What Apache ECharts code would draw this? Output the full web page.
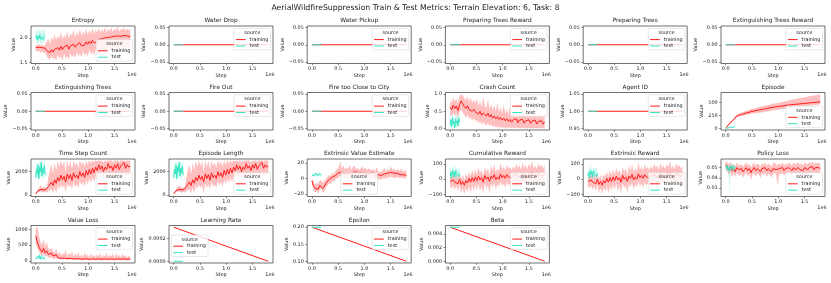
<!DOCTYPE html>
<html><head><meta charset="utf-8">
<script src="https://cdn.jsdelivr.net/npm/echarts@6/dist/echarts.min.js"></script>
<style>html,body{margin:0;padding:0;background:#fff}#c{width:831px;height:283px}</style>
</head><body><div id="c"></div>
<script>
// ================= DATA =================
const trainSteps = [0,0.03,0.06,0.09,0.12,0.15,0.18,0.21,0.24,0.27,0.3,0.33,0.36,0.39,0.42,0.45,0.48,0.51,0.54,0.57,0.6,0.63,0.66,0.69,0.72,0.75,0.78,0.81,0.84,0.87,0.9,0.93,0.96,0.99,1.02,1.05,1.08,1.11,1.14,1.17,1.2,1.23,1.26,1.29,1.32,1.35,1.38,1.41,1.44,1.47,1.5,1.53,1.56,1.59,1.62,1.65,1.68,1.71,1.74,1.77,1.8];
const testSteps = [0,0.015,0.03,0.045,0.06,0.075,0.09,0.105,0.12,0.135,0.15,0.165,0.18];
const trainEnds = [0, 1.8];
const testEnds = [0, 0.18];
const episodeSteps = [0,0.03,0.06,0.1,0.15,0.2,0.25,0.3,0.4,0.5,0.6,0.7,0.8,0.9,1.0,1.1,1.2,1.3,1.4,1.5,1.6,1.7,1.8];

const xTicks = [0, 0.5, 1.0, 1.5];

// Entropy
const entropyTicks = [1.5, 2.0];
const entropyTrain = [1.80,1.78,1.81,1.77,1.80,1.76,1.79,1.74,1.72,1.70,1.76,1.71,1.77,1.73,1.80,1.75,1.83,1.76,1.82,1.78,1.85,1.77,1.84,1.80,1.87,1.81,1.86,1.83,1.90,1.84,1.88,1.85,1.92,1.87,1.93,1.88,1.95,1.90,1.94,1.91,1.97,1.93,1.98,1.94,2.00,1.96,2.01,1.97,2.02,1.98,2.03,1.99,2.04,2.00,2.03,1.99,2.05,2.01,2.04,2.00,2.02];
const entropyTrainLo = [1.74,1.72,1.74,1.70,1.73,1.69,1.71,1.62,1.58,1.55,1.63,1.57,1.60,1.54,1.66,1.58,1.62,1.53,1.68,1.57,1.64,1.55,1.70,1.60,1.66,1.58,1.72,1.62,1.68,1.60,1.74,1.64,1.70,1.62,1.76,1.66,1.72,1.64,1.78,1.68,1.74,1.66,1.80,1.70,1.76,1.68,1.82,1.72,1.78,1.70,1.83,1.73,1.80,1.71,1.84,1.74,1.81,1.72,1.85,1.75,1.80];
const entropyTrainHi = [1.86,1.85,1.88,1.84,1.87,1.83,1.86,1.92,1.98,1.88,2.02,1.93,2.08,1.95,2.05,1.98,2.12,1.96,2.06,2.00,2.14,1.98,2.10,2.03,2.16,2.00,2.12,2.05,2.18,2.04,2.13,2.07,2.19,2.06,2.15,2.09,2.20,2.08,2.16,2.11,2.21,2.10,2.17,2.12,2.22,2.11,2.18,2.14,2.21,2.12,2.19,2.15,2.22,2.13,2.18,2.16,2.21,2.14,2.19,2.16,2.18];
const entropyTest = [2.00,2.05,1.96,2.03,1.98,2.06,1.97,2.02,2.04,1.96,2.01,2.05,1.99];
const entropyTestLo = [1.92,1.95,1.86,1.90,1.88,1.96,1.85,1.90,1.95,1.87,1.90,1.96,1.90];
const entropyTestHi = [2.12,2.20,2.08,2.18,2.10,2.21,2.09,2.15,2.19,2.08,2.14,2.20,2.10];

// Constant metrics
const zeroTicks = [-0.05, 0, 0.05];
const zeroTrain = [0, 0];
const zeroTest = [0, 0];

// Agent ID
const agentTicks = [0.95, 1.0, 1.05];
const agentTrain = [1, 1];
const agentTest = [1, 1];

// Crash Count
const crashTicks = [0, 0.5, 1.0];
const crashTrain = [0.62,0.55,0.68,0.58,0.65,0.52,0.70,0.80,0.72,0.64,0.58,0.66,0.55,0.60,0.50,0.56,0.48,0.52,0.42,0.50,0.38,0.45,0.40,0.36,0.44,0.33,0.40,0.30,0.36,0.28,0.34,0.26,0.32,0.24,0.30,0.22,0.28,0.20,0.26,0.18,0.25,0.20,0.28,0.16,0.24,0.19,0.26,0.15,0.22,0.18,0.25,0.14,0.21,0.17,0.24,0.13,0.20,0.16,0.22,0.12,0.18];
const crashTrainLo = [0.40,0.35,0.45,0.38,0.42,0.30,0.48,0.55,0.45,0.38,0.30,0.40,0.28,0.32,0.22,0.30,0.20,0.25,0.15,0.22,0.10,0.18,0.12,0.08,0.16,0.06,0.12,0.04,0.08,0.02,0.06,0,0.05,0,0.04,0,0.03,0,0.02,0,0.02,0,0.03,0,0.01,0,0.02,0,0,0,0.02,0,0,0,0.01,0,0,0,0,0,0];
const crashTrainHi = [0.80,0.75,0.90,0.78,0.88,0.72,0.95,1.00,0.96,0.88,0.82,0.95,0.78,0.90,0.75,0.85,0.72,0.88,0.66,0.80,0.62,0.92,0.64,0.60,0.85,0.56,0.72,0.54,0.68,0.50,0.75,0.48,0.62,0.45,0.70,0.42,0.58,0.40,0.66,0.38,0.52,0.40,0.60,0.35,0.50,0.38,0.62,0.34,0.48,0.36,0.55,0.32,0.46,0.35,0.56,0.30,0.44,0.33,0.50,0.30,0.40];
const crashTest = [0.10,0.25,0.05,0.30,0.12,0.20,0.02,0.28,0.15,0.22,0.08,0.30,0.18];
const crashTestLo = [0,0.05,0,0.08,0,0.02,0,0.10,0,0.05,0,0.10,0.02];
const crashTestHi = [0.25,0.45,0.18,0.50,0.30,0.40,0.12,0.48,0.32,0.42,0.20,0.50,0.35];

// Episode
const episodeTicks = [0, 250, 500];
const episodeTrain = [0,40,80,120,170,230,255,270,300,330,350,370,390,410,425,440,455,465,475,485,495,505,515];
const episodeTrainLo = [0,30,65,100,150,205,225,240,265,285,300,315,330,345,360,375,390,400,410,425,440,455,470];
const episodeTrainHi = [5,50,95,140,195,260,290,310,345,380,405,430,455,480,500,520,545,565,585,605,625,645,665];
const episodeTest = [0,2,5,8,10,12,15,17,20,22,25,27,30];
const episodeTestLo = [0,0,2,5,7,9,12,14,17,19,22,24,27];
const episodeTestHi = [2,5,8,11,13,15,18,20,23,25,28,30,33];

// Time Step Count (Episode Length shows the same curve)
const timeStepTicks = [0, 2000];
const timeStepTrain = [100,250,400,500,450,380,420,350,700,900,1100,800,1300,1000,1500,1200,1700,1300,1600,1100,1800,1400,1750,1250,1900,1500,1700,1400,2000,1600,1900,1500,2100,1700,2200,1800,2300,1900,2400,2100,2600,2200,2500,2000,2400,2200,2700,2300,2500,2100,2600,2300,2700,2200,2500,2350,2800,2300,2600,2400,2500];
const timeStepTrainLo = [50,150,250,300,250,200,250,200,300,400,500,100,600,150,800,500,900,600,800,200,1000,600,900,500,1100,700,900,600,1200,800,1100,700,1300,900,1400,1000,1500,1100,1600,1300,1800,1400,1700,1200,1600,1400,1900,1500,1700,1300,1800,1500,1900,1400,1700,1550,2000,1500,1800,1600,1800];
const timeStepTrainHi = [200,400,600,800,700,600,650,600,1500,2200,2600,1800,2800,2100,2950,2400,3000,2500,2900,2000,3000,2400,2950,2200,3000,2500,2800,2300,3000,2600,2900,2400,3000,2600,3000,2700,3000,2800,3000,2900,3000,2900,3000,2800,3000,2900,3000,2950,3000,2800,3000,2900,3000,2850,3000,2950,3000,2900,3000,2950,3000];
const timeStepTest = [1500,2200,1800,2600,1400,2400,2000,2800,1600,2300,1900,2500,1700];
const timeStepTestLo = [1100,1600,1300,2000,1000,1800,1400,2200,1100,1700,1300,1900,1200];
const timeStepTestHi = [2300,2900,2600,3000,2200,3000,2700,3000,2400,3000,2600,3000,2500];
const episodeLengthTrain = timeStepTrain, episodeLengthTrainLo = timeStepTrainLo, episodeLengthTrainHi = timeStepTrainHi;
const episodeLengthTest = timeStepTest, episodeLengthTestLo = timeStepTestLo, episodeLengthTestHi = timeStepTestHi;

// Extrinsic Value Estimate
const eveTicks = [-20, 0, 20];
const eveTrain = [-3,-10,-13,-12,-14,-9,-8,-13,-10,-6,-4,-1,-3,2,1,4,5,8,10,7,9,6,8,7,9,6,8,9,7,8,6,8,9,7,8,6,8,7,6,8,5,4,5,3,4,5,6,4,7,6,8,6,7,5,7,6,5,7,5,6,4];
const eveTrainLo = [-6,-15,-18,-17,-20,-14,-13,-19,-16,-11,-9,-6,-8,-3,-4,-1,0,2,4,1,3,0,2,1,4,0,3,4,1,3,0,3,4,1,2,0,3,1,0,2,-1,-1,0,-2,-1,0,1,-1,2,1,3,1,2,0,2,1,0,2,0,1,-1];
const eveTrainHi = [0,-4,-8,-6,-7,-3,-2,-6,-3,0,2,5,3,8,6,10,12,15,22,13,17,12,14,13,18,11,15,17,12,14,11,13,16,12,14,11,13,12,10,13,9,15,10,8,9,11,14,9,13,10,16,11,13,10,12,11,10,13,9,11,9];
const eveTest = [4,5,6,4,5,7,5,4,6,5,6,4,5];
const eveTestLo = [2,3,4,2,3,5,3,2,4,3,4,2,3];
const eveTestHi = [6,7,8,6,7,9,7,6,8,7,8,6,7];

// Cumulative Reward (Extrinsic Reward shows the same curve)
const rewardTicks = [-100, 0, 100];
const cumRewardTrain = [-15,-25,-5,-20,-10,-30,0,-35,-15,-40,-10,-25,5,-20,10,-15,15,-10,20,-5,10,-20,25,0,15,-15,20,5,30,-5,15,0,35,10,25,5,30,15,20,10,25,15,35,20,30,10,40,20,30,15,35,25,45,20,30,15,40,25,35,20,30];
const cumRewardTrainLo = [-50,-60,-40,-70,-45,-80,-35,-90,-60,-100,-55,-85,-45,-95,-40,-80,-35,-70,-30,-75,-45,-95,-25,-60,-40,-90,-30,-55,-20,-70,-35,-50,-15,-45,-30,-55,-20,-40,-30,-45,-25,-40,-15,-30,-20,-45,-10,-30,-20,-40,-15,-25,0,-30,-20,-40,-10,-25,-15,-30,-20];
const cumRewardTrainHi = [20,10,35,15,30,5,40,0,30,-5,35,15,50,20,60,25,65,30,75,40,60,25,80,50,70,30,90,55,100,45,70,50,110,60,85,55,95,70,80,60,85,65,100,75,90,60,110,70,95,65,100,80,120,70,90,65,105,80,95,70,90];
const cumRewardTest = [20,45,10,60,30,50,15,55,35,25,45,20,40];
const cumRewardTestLo = [-10,15,-15,30,0,20,-10,25,5,-5,15,-10,10];
const cumRewardTestHi = [50,80,40,100,65,85,45,90,70,60,80,55,75];
const extRewardTrain = cumRewardTrain, extRewardTrainLo = cumRewardTrainLo, extRewardTrainHi = cumRewardTrainHi;
const extRewardTest = cumRewardTest, extRewardTestLo = cumRewardTestLo, extRewardTestHi = cumRewardTestHi;

// Policy Loss
const policyTicks = [0.03, 0.04, 0.05];
const policyTrain = [0.053,0.050,0.048,0.051,0.047,0.049,0.046,0.050,0.048,0.047,0.049,0.046,0.048,0.050,0.047,0.049,0.045,0.048,0.050,0.047,0.049,0.048,0.046,0.049,0.048,0.050,0.047,0.049,0.048,0.046,0.049,0.050,0.048,0.047,0.049,0.048,0.050,0.047,0.049,0.048,0.050,0.049,0.047,0.050,0.048,0.049,0.050,0.048,0.049,0.047,0.050,0.049,0.048,0.050,0.049,0.051,0.048,0.050,0.049,0.050,0.049];
const policyTrainLo = [0.049,0.046,0.043,0.046,0.040,0.045,0.041,0.045,0.043,0.042,0.044,0.040,0.043,0.045,0.041,0.044,0.038,0.043,0.045,0.041,0.044,0.043,0.040,0.044,0.043,0.045,0.041,0.044,0.043,0.040,0.044,0.045,0.043,0.032,0.044,0.043,0.045,0.042,0.044,0.043,0.045,0.044,0.042,0.045,0.043,0.044,0.045,0.043,0.044,0.042,0.045,0.044,0.043,0.045,0.044,0.046,0.043,0.045,0.044,0.045,0.044];
const policyTrainHi = [0.057,0.055,0.053,0.056,0.052,0.054,0.051,0.055,0.053,0.052,0.054,0.051,0.053,0.055,0.052,0.054,0.050,0.053,0.055,0.052,0.054,0.053,0.051,0.054,0.053,0.055,0.052,0.054,0.053,0.051,0.054,0.055,0.053,0.052,0.054,0.053,0.055,0.052,0.054,0.053,0.055,0.054,0.052,0.055,0.053,0.054,0.055,0.053,0.054,0.052,0.055,0.054,0.053,0.055,0.054,0.056,0.053,0.055,0.054,0.055,0.054];
const policyTest = [0.051,0.049,0.052,0.048,0.050,0.047,0.051,0.049,0.052,0.050,0.048,0.051,0.050];
const policyTestLo = [0.049,0.046,0.049,0.044,0.040,0.023,0.046,0.045,0.049,0.047,0.045,0.048,0.047];
const policyTestHi = [0.053,0.052,0.054,0.051,0.053,0.052,0.053,0.052,0.054,0.053,0.051,0.053,0.052];

// Value Loss
const valueLossTicks = [0, 500, 1000];
const valueLossTrain = [800,600,450,350,280,400,250,320,200,180,250,150,120,200,100,150,80,120,90,140,70,110,80,130,60,100,70,120,60,90,50,110,70,90,50,100,60,80,50,90,60,100,50,80,60,110,50,80,60,90,50,100,60,80,50,90,60,80,50,70,60];
const valueLossTrainLo = [550,400,300,200,150,220,130,180,100,90,130,70,60,100,40,70,30,50,40,60,20,50,30,60,20,40,20,50,20,30,10,40,20,30,10,40,20,30,10,30,20,40,10,30,20,40,10,30,20,30,10,40,20,30,10,30,20,30,10,20,20];
const valueLossTrainHi = [1050,1100,800,600,500,700,450,600,400,350,450,300,250,400,200,300,180,250,200,350,150,250,180,300,140,220,160,280,130,200,120,260,160,200,110,230,140,190,120,210,140,240,110,190,140,260,120,190,150,220,110,240,140,190,120,220,140,180,110,160,140];
const valueLossTest = [60,120,40,150,80,180,50,130,90,160,60,110,70];
const valueLossTestLo = [20,60,10,80,30,100,20,70,40,90,20,50,30];
const valueLossTestHi = [100,180,80,230,140,260,90,200,150,240,110,170,120];

// Learning Rate / Epsilon / Beta
const lrTicks = [0, 0.0002];
const lrTrain = [0.0003, 0];
const lrTest = [0, 0];
const epsTicks = [0.10, 0.15, 0.20];
const epsTrain = [0.2, 0.1];
const epsTest = [0.2, 0.2];
const betaTicks = [0, 0.002, 0.004];
const betaTrain = [0.005, 0.00001];
const betaTest = [0.005, 0.005];

// ================= LAYOUT / STYLE =================
const FONT = '"DejaVu Sans", sans-serif';
const FS = 4.9;
const TRAIN_C = '#ff1a1a';
const TEST_C = '#33e6c2';
const colLeft = [31, 169, 307.2, 445.4, 583.2, 721];
const rowTop = [26, 92.5, 159, 225.5];
const PW = 104, PH = 37.5;
const X_MIN = -0.09, X_MAX = 1.89;
const ZR = [-0.055, 0.055];

const panels = [
  {title:'Entropy', tr:[trainSteps, entropyTrain, entropyTrainLo, entropyTrainHi], te:[testSteps, entropyTest, entropyTestLo, entropyTestHi], yr:[1.48, 2.24], ticks:entropyTicks, dec:1, leg:'lr'},
  {title:'Water Drop', tr:[trainEnds, zeroTrain], te:[testEnds, zeroTest], yr:ZR, ticks:zeroTicks, dec:2, leg:'ur'},
  {title:'Water Pickup', tr:[trainEnds, zeroTrain], te:[testEnds, zeroTest], yr:ZR, ticks:zeroTicks, dec:2, leg:'ur'},
  {title:'Preparing Trees Reward', tr:[trainEnds, zeroTrain], te:[testEnds, zeroTest], yr:ZR, ticks:zeroTicks, dec:2, leg:'ur'},
  {title:'Preparing Trees', tr:[trainEnds, zeroTrain], te:[testEnds, zeroTest], yr:ZR, ticks:zeroTicks, dec:2, leg:'ur'},
  {title:'Extinguishing Trees Reward', tr:[trainEnds, zeroTrain], te:[testEnds, zeroTest], yr:ZR, ticks:zeroTicks, dec:2, leg:'ur'},
  {title:'Extinguishing Trees', tr:[trainEnds, zeroTrain], te:[testEnds, zeroTest], yr:ZR, ticks:zeroTicks, dec:2, leg:'ur'},
  {title:'Fire Out', tr:[trainEnds, zeroTrain], te:[testEnds, zeroTest], yr:ZR, ticks:zeroTicks, dec:2, leg:'ur'},
  {title:'Fire too Close to City', tr:[trainEnds, zeroTrain], te:[testEnds, zeroTest], yr:ZR, ticks:zeroTicks, dec:2, leg:'ur'},
  {title:'Crash Count', tr:[trainSteps, crashTrain, crashTrainLo, crashTrainHi], te:[testSteps, crashTest, crashTestLo, crashTestHi], yr:[-0.05, 1.05], ticks:crashTicks, dec:1, leg:'ur'},
  {title:'Agent ID', tr:[trainEnds, agentTrain], te:[testEnds, agentTest], yr:[0.945, 1.055], ticks:agentTicks, dec:2, leg:'ur'},
  {title:'Episode', tr:[episodeSteps, episodeTrain, episodeTrainLo, episodeTrainHi], te:[testSteps, episodeTest, episodeTestLo, episodeTestHi], yr:[-33, 698], ticks:episodeTicks, dec:0, leg:'lr'},
  {title:'Time Step Count', tr:[trainSteps, timeStepTrain, timeStepTrainLo, timeStepTrainHi], te:[testSteps, timeStepTest, timeStepTestLo, timeStepTestHi], yr:[-150, 3100], ticks:timeStepTicks, dec:0, leg:'lr'},
  {title:'Episode Length', tr:[trainSteps, episodeLengthTrain, episodeLengthTrainLo, episodeLengthTrainHi], te:[testSteps, episodeLengthTest, episodeLengthTestLo, episodeLengthTestHi], yr:[-150, 3100], ticks:timeStepTicks, dec:0, leg:'lr'},
  {title:'Extrinsic Value Estimate', tr:[trainSteps, eveTrain, eveTrainLo, eveTrainHi], te:[testSteps, eveTest, eveTestLo, eveTestHi], yr:[-23.5, 25.5], ticks:eveTicks, dec:0, leg:'lc'},
  {title:'Cumulative Reward', tr:[trainSteps, cumRewardTrain, cumRewardTrainLo, cumRewardTrainHi], te:[testSteps, cumRewardTest, cumRewardTestLo, cumRewardTestHi], yr:[-114, 133], ticks:rewardTicks, dec:0, leg:'lr'},
  {title:'Extrinsic Reward', tr:[trainSteps, extRewardTrain, extRewardTrainLo, extRewardTrainHi], te:[testSteps, extRewardTest, extRewardTestLo, extRewardTestHi], yr:[-114, 133], ticks:rewardTicks, dec:0, leg:'lr'},
  {title:'Policy Loss', tr:[trainSteps, policyTrain, policyTrainLo, policyTrainHi], te:[testSteps, policyTest, policyTestLo, policyTestHi], yr:[0.0215, 0.0585], ticks:policyTicks, dec:2, leg:'lr'},
  {title:'Value Loss', tr:[trainSteps, valueLossTrain, valueLossTrainLo, valueLossTrainHi], te:[testSteps, valueLossTest, valueLossTestLo, valueLossTestHi], yr:[-70, 1130], ticks:valueLossTicks, dec:0, leg:'ur'},
  {title:'Learning Rate', tr:[trainEnds, lrTrain], te:[testEnds, lrTest], yr:[-0.000015, 0.000315], ticks:lrTicks, dec:4, leg:'cl'},
  {title:'Epsilon', tr:[trainEnds, epsTrain], te:[testEnds, epsTest], yr:[0.095, 0.205], ticks:epsTicks, dec:2, leg:'ur'},
  {title:'Beta', tr:[trainEnds, betaTrain], te:[testEnds, betaTest], yr:[-0.00025, 0.00525], ticks:betaTicks, dec:3, leg:'ur'}
];

function fmt(v, dec) {
  const s = Math.abs(v).toFixed(dec);
  return (v < 0 && Number(s) !== 0 ? '\u2212' : '') + s;
}
const mctx = document.createElement('canvas').getContext('2d');
mctx.font = FS + 'px "DejaVu Sans"';

function rgba(hex, a) {
  const n = parseInt(hex.slice(1), 16);
  return 'rgba(' + (n >> 16) + ',' + ((n >> 8) & 255) + ',' + (n & 255) + ',' + a + ')';
}

const txt = (extra) => Object.assign({fontFamily: FONT, fontSize: FS, fill: '#1a1a1a'}, extra);

const option = {animation: false, grid: [], xAxis: [], yAxis: [], series: [], graphic: []};

function bandSeries(i, xs, lo, hi, color, z) {
  return {
    type: 'custom', xAxisIndex: i, yAxisIndex: i, z: z, silent: true, clip: true,
    data: xs.map((x, k) => [x, lo[k], hi[k]]),
    encode: {x: 0, y: [1, 2]},
    renderItem: function (params, api) {
      if (params.dataIndex !== 0) return null;
      const pts = [];
      for (let k = 0; k < xs.length; k++) pts.push(api.coord([xs[k], hi[k]]));
      for (let k = xs.length - 1; k >= 0; k--) pts.push(api.coord([xs[k], lo[k]]));
      return {type: 'polygon', shape: {points: pts}, style: {fill: rgba(color, 0.28), stroke: 'none'}};
    }
  };
}
function lineSeries(i, xs, ys, color, z) {
  return {
    type: 'line', xAxisIndex: i, yAxisIndex: i, z: z, silent: true, clip: true,
    data: xs.map((x, k) => [x, ys[k]]),
    showSymbol: false, symbol: 'none',
    lineStyle: {color: color, width: 1.0}, itemStyle: {color: color}
  };
}

const LW = 36.6, LH = 21.5, LPAD = 2.4;

panels.forEach((p, i) => {
  const r = Math.floor(i / 6), c = i % 6;
  const L = colLeft[c], T = rowTop[r];
  option.grid.push({left: L, top: T, width: PW, height: PH, show: true, borderColor: '#333', borderWidth: 0.7, backgroundColor: 'transparent'});
  option.xAxis.push({
    type: 'value', gridIndex: i, min: X_MIN, max: X_MAX,
    splitLine: {show: false}, axisLine: {show: false, onZero: false},
    axisTick: {show: true, length: 1.8, lineStyle: {color: '#333', width: 0.6}, customValues: xTicks},
    axisLabel: {show: true, customValues: xTicks, formatter: v => v.toFixed(1), fontSize: FS, fontFamily: FONT, color: '#1a1a1a', margin: 3.0},
    name: 'Step', nameLocation: 'middle', nameGap: 9.6,
    nameTextStyle: {fontSize: FS, fontFamily: FONT, color: '#1a1a1a'}
  });
  let mw = 0;
  p.ticks.forEach(t => { mw = Math.max(mw, mctx.measureText(fmt(t, p.dec)).width); });
  option.yAxis.push({
    type: 'value', gridIndex: i, min: p.yr[0], max: p.yr[1],
    splitLine: {show: false}, axisLine: {show: false, onZero: false},
    axisTick: {show: true, length: 1.8, lineStyle: {color: '#333', width: 0.6}, customValues: p.ticks},
    axisLabel: {show: true, customValues: p.ticks, formatter: v => fmt(v, p.dec), fontSize: FS, fontFamily: FONT, color: '#1a1a1a', margin: 3.4},
    name: 'Value', nameLocation: 'middle', nameRotate: 90, nameGap: 3.4 + mw + 1.9,
    nameTextStyle: {fontSize: FS, fontFamily: FONT, color: '#1a1a1a'}
  });
  const [tx, ty, tlo, thi] = p.tr;
  const [sx, sy, slo, shi] = p.te;
  if (tlo) option.series.push(bandSeries(i, tx, tlo, thi, TRAIN_C, 1));
  option.series.push(lineSeries(i, tx, ty, TRAIN_C, 2));
  if (slo) option.series.push(bandSeries(i, sx, slo, shi, TEST_C, 3));
  option.series.push(lineSeries(i, sx, sy, TEST_C, 4));

  option.graphic.push({type: 'text', x: L + PW / 2, y: T - 5.3, z: 50,
    style: txt({text: p.title, fontSize: 5.85, align: 'center', verticalAlign: 'middle'})});
  option.graphic.push({type: 'text', x: L + PW + 1.5, y: T + PH + 11.6, z: 50,
    style: txt({text: '1e6', align: 'right', verticalAlign: 'middle'})});
  let lx, ly;
  if (p.leg === 'ur') { lx = L + PW - LPAD - LW; ly = T + LPAD; }
  else if (p.leg === 'lr') { lx = L + PW - LPAD - LW; ly = T + PH - LPAD - LH; }
  else if (p.leg === 'lc') { lx = L + PW / 2 - LW / 2; ly = T + PH - LPAD - LH; }
  else { lx = L + LPAD; ly = T + PH / 2 - LH / 2 + 1.5; }
  option.graphic.push({
    type: 'group', x: lx, y: ly, z: 60,
    children: [
      {type: 'rect', z: 60, shape: {x: 0, y: 0, width: LW, height: LH, r: 1}, style: {fill: 'rgba(255,255,255,0.8)', stroke: '#d0d0d0', lineWidth: 0.5}},
      {type: 'text', z: 61, x: LW / 2, y: 4.3, style: txt({text: 'source', align: 'center', verticalAlign: 'middle'})},
      {type: 'line', z: 61, shape: {x1: 1.9, y1: 11.2, x2: 11.6, y2: 11.2}, style: {stroke: TRAIN_C, lineWidth: 1.0}},
      {type: 'text', z: 61, x: 15.5, y: 11.2, style: txt({text: 'training', align: 'left', verticalAlign: 'middle'})},
      {type: 'line', z: 61, shape: {x1: 1.9, y1: 17.6, x2: 11.6, y2: 17.6}, style: {stroke: TEST_C, lineWidth: 1.0}},
      {type: 'text', z: 61, x: 15.5, y: 17.6, style: txt({text: 'test', align: 'left', verticalAlign: 'middle'})}
    ]
  });
});

option.graphic.push({type: 'text', x: 415.5, y: 8.3, z: 50,
  style: txt({text: 'AerialWildfireSuppression Train & Test Metrics: Terrain Elevation: 6, Task: 8', fontSize: 7.75, align: 'center', verticalAlign: 'middle'})});

const chart = echarts.init(document.getElementById('c'), null, {renderer: 'canvas'});
chart.setOption(option);
</script>
</body></html>
